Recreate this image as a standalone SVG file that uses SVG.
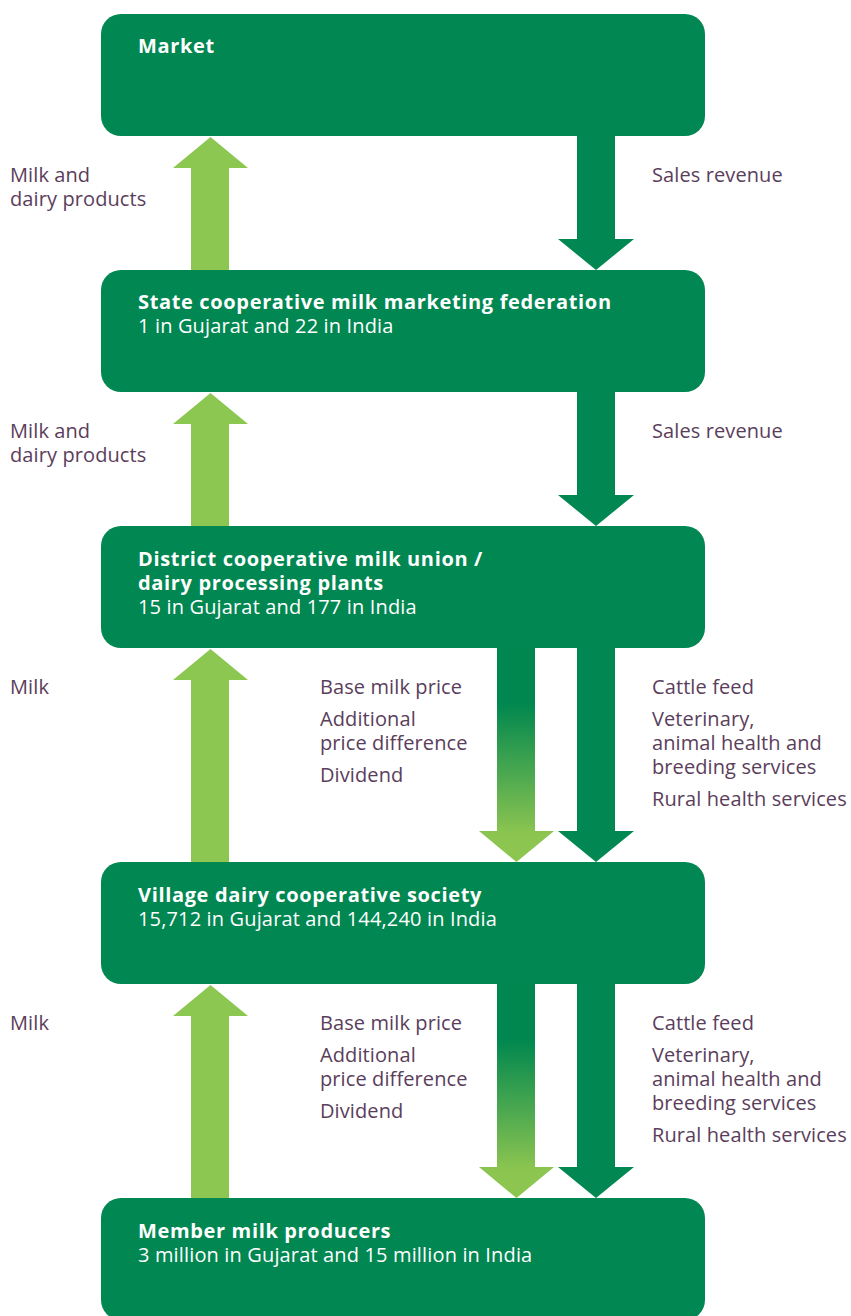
<svg xmlns="http://www.w3.org/2000/svg" width="851" height="1316" viewBox="0 0 851 1316">
<defs>
<linearGradient id="grad" x1="0" y1="0" x2="0" y2="1">
<stop offset="0.26" stop-color="#00874F"/>
<stop offset="0.87" stop-color="#8CC550"/>
</linearGradient>
<style>
.box{fill:#008752}
.up{fill:#8CC751}
.down{fill:#008752}
.gd{fill:url(#grad)}
.t{font-family:"Open Sans","Noto Sans",sans-serif;font-size:20px;fill:#ffffff;font-weight:bold;letter-spacing:0.65px}
.s{font-family:"Open Sans","Noto Sans",sans-serif;font-size:20px;fill:#ffffff;letter-spacing:0.15px}
.l{font-family:"Open Sans","Noto Sans",sans-serif;font-size:20px;fill:#5A3E5B;letter-spacing:0.1px}
</style>
</defs>
<rect width="851" height="1316" fill="#ffffff"/>
<g id="connectors">
<polygon class="up" points="191,270 229,270 229,168 248,168 210.5,137 173,168 191,168"/>
<polygon class="up" points="191,526 229,526 229,424 248,424 210.5,393 173,424 191,424"/>
<polygon class="up" points="191,862 229,862 229,680 248,680 210.5,649 173,680 191,680"/>
<polygon class="up" points="191,1198 229,1198 229,1016 248,1016 210.5,985 173,1016 191,1016"/>
<polygon class="down" points="577,136 615,136 615,239 634,239 596,270 558,239 577,239"/>
<polygon class="down" points="577,392 615,392 615,495 634,495 596,526 558,495 577,495"/>
<polygon class="down" points="577,648 615,648 615,831 634,831 596,862 558,831 577,831"/>
<polygon class="down" points="577,984 615,984 615,1167 634,1167 596,1198 558,1167 577,1167"/>
<polygon class="gd" points="497,648 535,648 535,831 554,831 516.5,862 479,831 497,831"/>
<polygon class="gd" points="497,984 535,984 535,1167 554,1167 516.5,1198 479,1167 497,1167"/>
<text class="l" x="10" y="182">Milk and</text>
<text class="l" x="10" y="206">dairy products</text>
<text class="l" x="652" y="182">Sales revenue</text>
<text class="l" x="10" y="438">Milk and</text>
<text class="l" x="10" y="462">dairy products</text>
<text class="l" x="652" y="438">Sales revenue</text>
<text class="l" x="10" y="694">Milk</text>
<text class="l" x="320" y="694">Base milk price</text>
<text class="l" x="320" y="726">Additional</text>
<text class="l" x="320" y="750">price difference</text>
<text class="l" x="320" y="782">Dividend</text>
<text class="l" x="652" y="694">Cattle feed</text>
<text class="l" x="652" y="726">Veterinary,</text>
<text class="l" x="652" y="750">animal health and</text>
<text class="l" x="652" y="774">breeding services</text>
<text class="l" x="652" y="806">Rural health services</text>
<text class="l" x="10" y="1030">Milk</text>
<text class="l" x="320" y="1030">Base milk price</text>
<text class="l" x="320" y="1062">Additional</text>
<text class="l" x="320" y="1086">price difference</text>
<text class="l" x="320" y="1118">Dividend</text>
<text class="l" x="652" y="1030">Cattle feed</text>
<text class="l" x="652" y="1062">Veterinary,</text>
<text class="l" x="652" y="1086">animal health and</text>
<text class="l" x="652" y="1110">breeding services</text>
<text class="l" x="652" y="1142">Rural health services</text>
</g>
<g id="market">
<rect class="box" x="101" y="14" width="604" height="122" rx="20"/>
<text class="t" x="138" y="53">Market</text>
</g>
<g id="state">
<rect class="box" x="101" y="270" width="604" height="122" rx="20"/>
<text class="t" x="138" y="309">State cooperative milk marketing federation</text>
<text class="s" x="138" y="333">1 in Gujarat and 22 in India</text>
</g>
<g id="district">
<rect class="box" x="101" y="526" width="604" height="122" rx="20"/>
<text class="t" x="138" y="566">District cooperative milk union /</text>
<text class="t" x="138" y="590">dairy processing plants</text>
<text class="s" x="138" y="614">15 in Gujarat and 177 in India</text>
</g>
<g id="village">
<rect class="box" x="101" y="862" width="604" height="122" rx="20"/>
<text class="t" x="138" y="902">Village dairy cooperative society</text>
<text class="s" x="138" y="926">15,712 in Gujarat and 144,240 in India</text>
</g>
<g id="producers">
<rect class="box" x="101" y="1198" width="604" height="122" rx="20"/>
<text class="t" x="138" y="1238">Member milk producers</text>
<text class="s" x="138" y="1262">3 million in Gujarat and 15 million in India</text>
</g>
</svg>
